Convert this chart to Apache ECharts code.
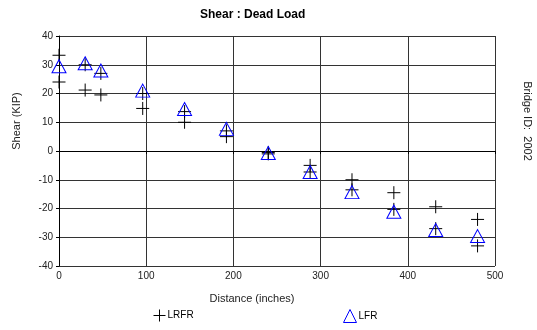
<!DOCTYPE html>
<html>
<head>
<meta charset="utf-8">
<script src="https://cdn.jsdelivr.net/npm/echarts@6/dist/echarts.min.js"></script>
<style>
  html, body { margin: 0; padding: 0; background: #fff; }
  #chart { width: 537px; height: 330px; }
</style>
</head>
<body>
<div id="chart"></div>
<script>
// Stations along the span (inches)
const distances = [0, 30, 48, 96, 144, 192, 240, 288, 336, 384, 432, 480];
// LRFR shear, two values per station (KIP)
const lrfrHigh = [33.3, 30, 27, 20, 13.7, 7, -0.5, -5, -10, -14.5, -19.4, -23.8];
const lrfrLow = [24, 21.2, 19.5, 14.8, 10, 5, -1, -7.3, -13.5, -20.3, -27, -33];
// LFR shear (KIP)
const lfr = [29.5, 30.5, 28, 21, 14.6, 7.7, -0.7, -7.3, -14.3, -21.1, -27.5, -29.6];
const yTicks = [-40, -30, -20, -10, 0, 10, 20, 30, 40];
const xTicks = [0, 100, 200, 300, 400, 500];

const CROSS = 'path://M0,6H12M6,0V12';
const FONT = '"Liberation Sans", Arial, sans-serif';

const lrfrData = [];
distances.forEach((d, i) => {
  lrfrData.push([d, lrfrHigh[i]]);
  lrfrData.push([d, lrfrLow[i]]);
});
const lfrData = distances.map((d, i) => [d, lfr[i]]);

const chart = echarts.init(document.getElementById('chart'), null, { renderer: 'canvas' });
chart.setOption({
  animation: false,
  backgroundColor: '#ffffff',
  textStyle: { fontFamily: FONT },
  title: {
    text: 'Shear : Dead Load',
    left: 195, top: 4,
    textStyle: { fontFamily: FONT, fontSize: 12, fontWeight: 'bold', color: '#000' }
  },
  grid: { left: 59, right: 42, top: 36, bottom: 64 },
  xAxis: {
    type: 'value', min: xTicks[0], max: xTicks[xTicks.length - 1], interval: 100,
    axisLine: { show: true, lineStyle: { color: '#000', width: 1 } },
    axisTick: { show: true, length: 3, lineStyle: { color: '#000' } },
    axisLabel: { color: '#222', fontSize: 10, fontFamily: FONT, margin: 5 },
    splitLine: { show: true, lineStyle: { color: '#333', width: 1 } }
  },
  yAxis: {
    type: 'value', min: yTicks[0], max: yTicks[yTicks.length - 1], interval: 10,
    axisLine: { show: true, lineStyle: { color: '#000', width: 1 } },
    axisTick: { show: true, length: 3, lineStyle: { color: '#000' } },
    axisLabel: { color: '#222', fontSize: 10, fontFamily: FONT, margin: 6 },
    splitLine: { show: true, lineStyle: { color: '#333', width: 1 } }
  },
  legend: [
    {
      data: ['LRFR'], left: 146, top: 302, itemWidth: 12, itemHeight: 12, itemGap: 2,
      itemStyle: { borderWidth: 1 },
      textStyle: { fontSize: 10, fontFamily: FONT, color: '#000', padding: [0, 0, 0, -3] }
    },
    {
      data: ['LFR'], left: 336, top: 302, itemWidth: 13, itemHeight: 13, itemGap: 2,
      itemStyle: { borderWidth: 1 },
      textStyle: { fontSize: 10, fontFamily: FONT, color: '#000', padding: [0, 0, 0, -3] }
    }
  ],
  graphic: [
    {
      type: 'text', x: 17, y: 121, rotation: Math.PI / 2,
      style: { text: 'Shear (KIP)', font: '11px ' + FONT, fill: '#222', align: 'center', verticalAlign: 'middle' }
    },
    {
      type: 'text', x: 252, y: 299,
      style: { text: 'Distance (inches)', font: '11px ' + FONT, fill: '#222', align: 'center', verticalAlign: 'middle' }
    },
    {
      type: 'text', x: 527, y: 121, rotation: -Math.PI / 2,
      style: { text: 'Bridge ID:  2002', font: '11px ' + FONT, fill: '#222', align: 'center', verticalAlign: 'middle' }
    }
  ],
  series: [
    {
      name: 'LRFR', type: 'scatter', data: lrfrData,
      symbol: CROSS, symbolSize: 13,
      itemStyle: { color: 'none', borderColor: '#000', borderWidth: 1, opacity: 1 },
      z: 3
    },
    {
      name: 'LFR', type: 'scatter', data: lfrData,
      symbol: 'triangle', symbolSize: [14, 13],
      itemStyle: { color: 'none', borderColor: '#0000ff', borderWidth: 1, opacity: 1 },
      z: 4
    }
  ]
});
</script>
</body>
</html>
